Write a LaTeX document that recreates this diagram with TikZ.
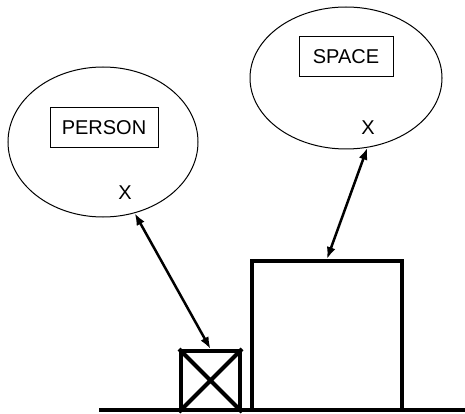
\documentclass[tikz,border=0pt]{standalone}
\usepackage{fontspec}
\setmainfont{Liberation Sans}
\usetikzlibrary{shapes.geometric,positioning,arrows.meta}

\tikzset{
 bubble/.style={draw,ellipse,line width=1pt,inner sep=0pt},
 tag/.style={draw,line width=1pt,minimum height=40pt,inner sep=0pt},
 spot/.style={inner sep=0pt},
 heavybox/.style={draw,line width=4pt,inner sep=0pt},
 link/.style={line width=2.5pt,{Latex[length=12pt,width=9pt]}-{Latex[length=12pt,width=9pt]}}
}

\begin{document}
\begin{tikzpicture}[x=1pt,y=-1pt,font=\fontsize{20}{24}\selectfont]
 \useasboundingbox (0,0) rectangle (465,414);

 % the two bubbles with their names
 \node[bubble,minimum width=190pt,minimum height=150pt] (person) at (103,142) {};
 \node[bubble,minimum width=192pt,minimum height=142pt] (space) at (346,78) {};
 \node[tag,minimum width=108pt] (personname) at (104,128) {PERSON};
 \node[tag,minimum width=94pt] (spacename) at (346,57) {SPACE};
 \node[spot] (personx) at (125,193) {X};
 \node[spot] (spacex) at (368,128) {X};

 % objects standing on the floor
 \node[heavybox,minimum width=59pt,minimum height=59pt] (crate) at (210.5,380.5) {};
 \draw[line width=4pt] (crate.north west) -- (crate.south east) (crate.north east) -- (crate.south west);
 \node[heavybox,minimum width=149.5pt,minimum height=149pt] (room) at (327,335.5) {};

 \coordinate (floorleft) at (99,410);
 \coordinate (floorright) at (465,410);
 \draw[line width=4pt] (floorleft) -- (floorright);

 % links
 \draw[link] (person.-66) -- (crate.north);
 \draw[link] (space.-73) -- (room.north);
\end{tikzpicture}
\end{document}
